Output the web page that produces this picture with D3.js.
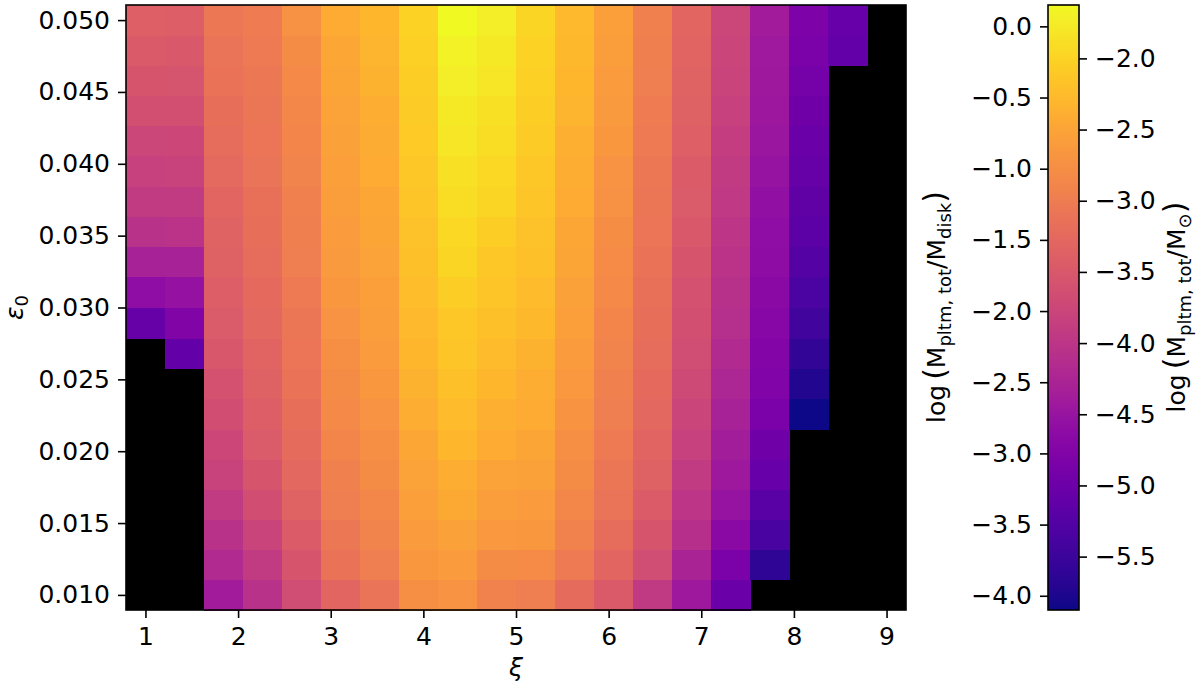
<!DOCTYPE html>
<html>
<head>
<meta charset="utf-8">
<script src="https://cdn.jsdelivr.net/npm/d3@7"></script>
<style>
  body { margin: 0; background: #fff; }
  svg { display: block; }
  svg text { font-family: "DejaVu Sans", sans-serif; }
</style>
</head>
<body>
<svg id="chart" width="1200" height="690"></svg>
<script>
(function() {

// grid coordinates
const xi = [1.00, 1.42, 1.84, 2.26, 2.68, 3.11, 3.53, 3.95, 4.37, 4.79,
            5.21, 5.63, 6.05, 6.47, 6.89, 7.32, 7.74, 8.16, 8.58, 9.00];
const eps0 = [0.0100, 0.0121, 0.0142, 0.0163, 0.0184, 0.0205, 0.0226, 0.0247, 0.0268, 0.0289,
              0.0311, 0.0332, 0.0353, 0.0374, 0.0395, 0.0416, 0.0437, 0.0458, 0.0479, 0.0500];

// log(M_pltm,tot / M_disk), one array per xi column, eps0 from low to high (null = no planetesimals)
const N = null;
const logM = [
  [N, N, N, N, N, N, N, N, N, -3.30, -2.83, -2.53, -2.28, -2.15, -2.06, -1.98, -1.85, -1.77, -1.70, -1.62],
  [N, N, N, N, N, N, N, N, -3.32, -3.00, -2.77, -2.53, -2.26, -2.15, -2.04, -1.96, -1.85, -1.79, -1.72, -1.64],
  [-2.62, -2.40, -2.28, -2.15, -2.04, -1.96, -1.87, -1.81, -1.74, -1.68, -1.64, -1.60, -1.57, -1.53, -1.49, -1.43, -1.40, -1.36, -1.34, -1.28],
  [-2.28, -2.15, -2.02, -1.87, -1.77, -1.68, -1.64, -1.60, -1.55, -1.51, -1.47, -1.43, -1.40, -1.38, -1.34, -1.32, -1.30, -1.28, -1.26, -1.23],
  [-1.89, -1.77, -1.66, -1.57, -1.51, -1.45, -1.40, -1.36, -1.32, -1.30, -1.26, -1.21, -1.19, -1.17, -1.13, -1.11, -1.09, -1.06, -1.02, -0.96],
  [-1.53, -1.36, -1.28, -1.21, -1.17, -1.11, -1.06, -1.02, -0.98, -0.94, -0.89, -0.85, -0.83, -0.81, -0.79, -0.77, -0.75, -0.72, -0.70, -0.66],
  [-1.34, -1.21, -1.13, -1.09, -1.02, -0.98, -0.94, -0.89, -0.83, -0.81, -0.79, -0.75, -0.72, -0.70, -0.66, -0.64, -0.62, -0.58, -0.55, -0.53],
  [-0.98, -0.89, -0.83, -0.79, -0.75, -0.70, -0.62, -0.58, -0.53, -0.49, -0.45, -0.43, -0.41, -0.38, -0.34, -0.32, -0.30, -0.28, -0.26, -0.24],
  [-0.94, -0.83, -0.77, -0.68, -0.62, -0.53, -0.47, -0.43, -0.38, -0.34, -0.28, -0.21, -0.17, -0.13, -0.09, -0.04, 0.00, 0.04, 0.08, 0.15],
  [-1.15, -1.02, -0.87, -0.81, -0.75, -0.66, -0.60, -0.53, -0.47, -0.43, -0.38, -0.34, -0.28, -0.21, -0.17, -0.13, -0.09, -0.04, 0.00, 0.04],
  [-1.21, -1.04, -0.89, -0.83, -0.77, -0.72, -0.66, -0.62, -0.58, -0.51, -0.47, -0.43, -0.41, -0.38, -0.34, -0.30, -0.28, -0.26, -0.24, -0.21],
  [-1.45, -1.26, -1.15, -1.09, -1.02, -0.98, -0.92, -0.87, -0.83, -0.79, -0.77, -0.72, -0.70, -0.66, -0.62, -0.60, -0.55, -0.53, -0.51, -0.49],
  [-1.70, -1.53, -1.43, -1.34, -1.30, -1.26, -1.21, -1.17, -1.13, -1.11, -1.06, -1.04, -1.00, -0.96, -0.94, -0.89, -0.85, -0.83, -0.81, -0.79],
  [-2.17, -1.89, -1.77, -1.66, -1.60, -1.55, -1.51, -1.47, -1.43, -1.40, -1.38, -1.36, -1.32, -1.30, -1.28, -1.26, -1.23, -1.21, -1.19, -1.17],
  [-2.66, -2.49, -2.32, -2.23, -2.15, -2.06, -2.00, -1.94, -1.89, -1.85, -1.81, -1.77, -1.72, -1.68, -1.66, -1.62, -1.60, -1.57, -1.55, -1.53],
  [-3.25, -3.06, -2.89, -2.74, -2.66, -2.60, -2.53, -2.47, -2.40, -2.34, -2.30, -2.26, -2.23, -2.19, -2.15, -2.11, -2.06, -2.02, -2.00, -1.98],
  [N, -3.85, -3.60, -3.43, -3.28, -3.19, -3.08, -3.02, -2.98, -2.94, -2.89, -2.85, -2.83, -2.79, -2.74, -2.70, -2.68, -2.66, -2.64, -2.62],
  [N, N, N, N, N, N, -4.10, -3.96, -3.81, -3.68, -3.57, -3.47, -3.40, -3.36, -3.30, -3.25, -3.19, -3.13, -3.08, -3.04],
  [N, N, N, N, N, N, N, N, N, N, N, N, N, N, N, N, N, N, -3.32, -3.28],
  [N, N, N, N, N, N, N, N, N, N, N, N, N, N, N, N, N, N, N, N]
];

// tick labels
const xTicks = [1, 2, 3, 4, 5, 6, 7, 8, 9];
const yTicks = [0.010, 0.015, 0.020, 0.025, 0.030, 0.035, 0.040, 0.045, 0.050];
const cbTicksDisk = [0.0, -0.5, -1.0, -1.5, -2.0, -2.5, -3.0, -3.5, -4.0];
const cbTicksSun = [-2.0, -2.5, -3.0, -3.5, -4.0, -4.5, -5.0, -5.5];
const logMdiskSun = -1.775;   // log(M_disk / M_sun), offset of the right colorbar axis

const FS = 25;
const FONT = '"DejaVu Sans", sans-serif';

document.addEventListener("DOMContentLoaded", function() {
    drawHeatmap();
    drawColorbar();
});

// cell edges half way between grid points
function edges(v) {
    var e = [v[0] - (v[1] - v[0]) / 2];
    for (var i = 1; i < v.length; i++) e.push((v[i - 1] + v[i]) / 2);
    e.push(v[v.length - 1] + (v[v.length - 1] - v[v.length - 2]) / 2);
    return e;
}

const allVals = logM.flat().filter(function(d) { return d !== null; });
const color = d3.scaleSequential(d3.interpolatePlasma).domain(d3.extent(allVals));

function styleAxis(g) {
    g.attr("font-family", FONT);
    g.select(".domain").remove();
    g.selectAll(".tick line").attr("stroke", "#000").attr("stroke-width", 1.6);
    g.selectAll(".tick text").attr("fill", "#000").style("font-size", FS + "px");
}

function drawHeatmap() {
    var svg = d3.select("#chart");
    var margin = {left: 126, right: 294, top: 5, bottom: 80};
    var width = 1200 - margin.left - margin.right,
        height = 690 - margin.top - margin.bottom;

    var xe = edges(xi), ye = edges(eps0);
    var x = d3.scaleLinear().domain([xe[0], xe[xe.length - 1]]).range([0, width]);
    var y = d3.scaleLinear().domain([ye[0], ye[ye.length - 1]]).range([height, 0]);

    var g = svg.append("g")
        .attr("transform", "translate(" + margin.left + "," + margin.top + ")");

    // masked cells show the black background
    g.append("rect")
        .attr("width", width).attr("height", height)
        .attr("fill", "#000");

    var cells = [];
    logM.forEach(function(col, i) {
        col.forEach(function(v, j) {
            if (v !== null) cells.push({i: i, j: j, v: v});
        });
    });

    g.selectAll(".cell")
        .data(cells)
      .enter().append("rect")
        .attr("class", "cell")
        .attr("shape-rendering", "crispEdges")
        .attr("x", function(d) { return x(xe[d.i]); })
        .attr("y", function(d) { return y(ye[d.j + 1]); })
        .attr("width", function(d) { return x(xe[d.i + 1]) - x(xe[d.i]) + 0.6; })
        .attr("height", function(d) { return y(ye[d.j]) - y(ye[d.j + 1]) + 0.6; })
        .attr("fill", function(d) { return color(d.v); });

    g.append("rect")
        .attr("width", width).attr("height", height)
        .attr("fill", "none").attr("stroke", "#000").attr("stroke-width", 1.6);

    g.append("g")
        .attr("transform", "translate(0," + height + ")")
        .call(d3.axisBottom(x).tickValues(xTicks).tickSize(8).tickPadding(9).tickFormat(d3.format("d")))
        .call(styleAxis);

    g.append("g")
        .call(d3.axisLeft(y).tickValues(yTicks).tickSize(8).tickPadding(8).tickFormat(d3.format(".3f")))
        .call(styleAxis);

    svg.append("text")
        .attr("x", margin.left + width / 2).attr("y", 676)
        .attr("text-anchor", "middle")
        .style("font-size", FS + "px").style("font-style", "italic")
        .text("ξ");

    var yl = svg.append("text")
        .attr("transform", "translate(23," + (margin.top + height / 2) + ") rotate(-90)")
        .attr("text-anchor", "middle")
        .style("font-size", FS + "px");
    yl.append("tspan").style("font-style", "italic").text("ε");
    yl.append("tspan").attr("dy", 5).style("font-size", "18px").text("0");
}

function massLabel(svg, xpos, subText) {
    var t = svg.append("text")
        .attr("transform", "translate(" + xpos + ",307) rotate(-90)")
        .attr("text-anchor", "middle")
        .style("font-size", FS + "px");
    t.append("tspan").text("log\u2009");
    t.append("tspan").style("font-size", "30px").text("(");
    t.append("tspan").text("M");
    t.append("tspan").attr("dy", 6).style("font-size", "18px").text("pltm, tot");
    t.append("tspan").attr("dy", -6).text("/M");
    t.append("tspan").attr("dy", 6).style("font-size", "18px").text(subText);
    t.append("tspan").attr("dy", -6).style("font-size", "30px").text(")");
}

function drawColorbar() {
    var svg = d3.select("#chart");
    var cbX = 1048, cbW = 31, cbTop = 5, cbH = 605;
    var dom = color.domain();

    var grad = svg.append("defs").append("linearGradient")
        .attr("id", "cbgrad")
        .attr("x1", 0).attr("y1", 1).attr("x2", 0).attr("y2", 0);
    d3.range(0, 1.0001, 0.02).forEach(function(t) {
        grad.append("stop")
            .attr("offset", t)
            .attr("stop-color", d3.interpolatePlasma(t));
    });

    var g = svg.append("g").attr("transform", "translate(" + cbX + "," + cbTop + ")");
    g.append("rect")
        .attr("width", cbW).attr("height", cbH)
        .attr("fill", "url(#cbgrad)")
        .attr("stroke", "#000").attr("stroke-width", 1.6);

    var yDisk = d3.scaleLinear().domain(dom).range([cbH, 0]);
    var ySun = d3.scaleLinear().domain([dom[0] + logMdiskSun, dom[1] + logMdiskSun]).range([cbH, 0]);

    g.append("g")
        .call(d3.axisLeft(yDisk).tickValues(cbTicksDisk).tickSize(8).tickPadding(8).tickFormat(d3.format(".1f")))
        .call(styleAxis);

    g.append("g")
        .attr("transform", "translate(" + cbW + ",0)")
        .call(d3.axisRight(ySun).tickValues(cbTicksSun).tickSize(8).tickPadding(8).tickFormat(d3.format(".1f")))
        .call(styleAxis);

    massLabel(svg, 945, "disk");
    massLabel(svg, 1185, "\u2299");
}

})();
</script>
</body>
</html>
